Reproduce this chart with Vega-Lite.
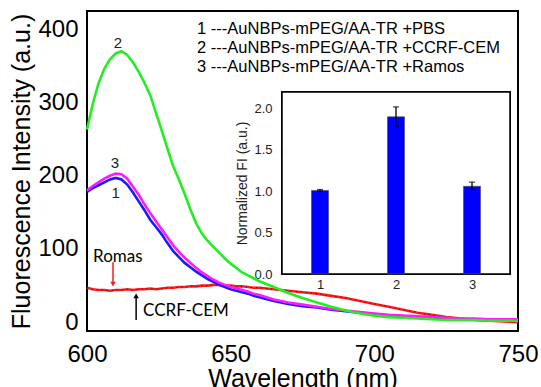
{
  "$schema": "https://vega.github.io/schema/vega-lite/v6.json",
  "width": 431,
  "height": 320,
  "autosize": {"type": "none"},
  "padding": {"left": 87, "top": 11, "right": 23, "bottom": 56},
  "background": "white",
  "config": {
    "view": {"stroke": "black", "strokeWidth": 2},
    "font": "Liberation Sans",
    "axis": {"grid": false}
  },
  "datasets": {
    "spectra": [
      {"wl": 600, "r": 47, "b": 178, "m": 180, "g": 263},
      {"wl": 602, "r": 45, "b": 183, "m": 186, "g": 298},
      {"wl": 604, "r": 44, "b": 187, "m": 191, "g": 326},
      {"wl": 606, "r": 44, "b": 191, "m": 196, "g": 346},
      {"wl": 608, "r": 43, "b": 195, "m": 200, "g": 359},
      {"wl": 610, "r": 44, "b": 197, "m": 203, "g": 367},
      {"wl": 612, "r": 44, "b": 195, "m": 202, "g": 370},
      {"wl": 614, "r": 45, "b": 188, "m": 196, "g": 365},
      {"wl": 616, "r": 44, "b": 177, "m": 185, "g": 355},
      {"wl": 618, "r": 45, "b": 165, "m": 174, "g": 342},
      {"wl": 620, "r": 45, "b": 153, "m": 161, "g": 327},
      {"wl": 622, "r": 46, "b": 140, "m": 149, "g": 310},
      {"wl": 624, "r": 45, "b": 130, "m": 138, "g": 286},
      {"wl": 626, "r": 46, "b": 120, "m": 127, "g": 262},
      {"wl": 628, "r": 47, "b": 108, "m": 116, "g": 237},
      {"wl": 630, "r": 47, "b": 97, "m": 105, "g": 213},
      {"wl": 632, "r": 48, "b": 89, "m": 96, "g": 195},
      {"wl": 634, "r": 48, "b": 81, "m": 88, "g": 175},
      {"wl": 636, "r": 49, "b": 75, "m": 81, "g": 154},
      {"wl": 638, "r": 49, "b": 69, "m": 74, "g": 135},
      {"wl": 640, "r": 50, "b": 64, "m": 68, "g": 121},
      {"wl": 642, "r": 50, "b": 59, "m": 63, "g": 111},
      {"wl": 644, "r": 51, "b": 55, "m": 58, "g": 103},
      {"wl": 646, "r": 51, "b": 51, "m": 54, "g": 95},
      {"wl": 648, "r": 50, "b": 48, "m": 51, "g": 87},
      {"wl": 650, "r": 50, "b": 45, "m": 48, "g": 80},
      {"wl": 652, "r": 49, "b": 43, "m": 46, "g": 74},
      {"wl": 654, "r": 49, "b": 41, "m": 44, "g": 68},
      {"wl": 656, "r": 48, "b": 39, "m": 42, "g": 64},
      {"wl": 658, "r": 47, "b": 36, "m": 39, "g": 60},
      {"wl": 660, "r": 47, "b": 34, "m": 37, "g": 56},
      {"wl": 665, "r": 45, "b": 29, "m": 31, "g": 48},
      {"wl": 670, "r": 43, "b": 25, "m": 27, "g": 40},
      {"wl": 675, "r": 41, "b": 22, "m": 24, "g": 33},
      {"wl": 680, "r": 39, "b": 20, "m": 21, "g": 27},
      {"wl": 685, "r": 36, "b": 17, "m": 18, "g": 21},
      {"wl": 690, "r": 33, "b": 15, "m": 16, "g": 16},
      {"wl": 695, "r": 29, "b": 13, "m": 14, "g": 12},
      {"wl": 700, "r": 25, "b": 11, "m": 12, "g": 9},
      {"wl": 705, "r": 21, "b": 9, "m": 10, "g": 7},
      {"wl": 710, "r": 17, "b": 8, "m": 9, "g": 6},
      {"wl": 715, "r": 13, "b": 7, "m": 8, "g": 5},
      {"wl": 720, "r": 10, "b": 6, "m": 7, "g": 4},
      {"wl": 725, "r": 7, "b": 5, "m": 6, "g": 3},
      {"wl": 730, "r": 5, "b": 4, "m": 5, "g": 3},
      {"wl": 735, "r": 3, "b": 4, "m": 5, "g": 3},
      {"wl": 740, "r": 2, "b": 3, "m": 4, "g": 2},
      {"wl": 745, "r": 1, "b": 3, "m": 4, "g": 2},
      {"wl": 750, "r": 0, "b": 3, "m": 4, "g": 2}
    ],
    "legend": [
      {"wl": 638.3, "v": 401, "t": "1 ---AuNBPs-mPEG/AA-TR +PBS"},
      {"wl": 638.3, "v": 374, "t": "2 ---AuNBPs-mPEG/AA-TR +CCRF-CEM"},
      {"wl": 638.3, "v": 348, "t": "3 ---AuNBPs-mPEG/AA-TR +Ramos"}
    ],
    "curvelabels": [
      {"wl": 610.8, "v": 381, "t": "2"},
      {"wl": 609.7, "v": 218, "t": "3"},
      {"wl": 610, "v": 177, "t": "1"}
    ],
    "notes": [
      {"wl": 602.1, "v": 89, "t": "Romas"},
      {"wl": 619.5, "v": 15, "t": "CCRF-CEM"}
    ],
    "redarrow": [{"wl": 609.05, "v": 82, "v2": 52}],
    "redhead": [{"wl": 609.05, "v": 52}],
    "blackarrow": [{"wl": 617.1, "v": 3, "v2": 36}],
    "blackhead": [{"wl": 617.1, "v": 36}],
    "xmajor": [{"wl": 650}, {"wl": 700}],
    "xminor": [{"wl": 610}, {"wl": 620}, {"wl": 630}, {"wl": 640}, {"wl": 660}, {"wl": 670}, {"wl": 680}, {"wl": 690}, {"wl": 710}, {"wl": 720}, {"wl": 730}, {"wl": 740}],
    "ymajor": [{"v": 0}, {"v": 100}, {"v": 200}, {"v": 300}, {"v": 400}],
    "yminor": [{"v": 50}, {"v": 150}, {"v": 250}, {"v": 350}],
    "insetticks": [{"v": 0.25}, {"v": 0.5}, {"v": 0.75}, {"v": 1.0}, {"v": 1.25}, {"v": 1.5}, {"v": 1.75}, {"v": 2.0}],
    "bars": [
      {"c": 1, "v": 1.01},
      {"c": 2, "v": 1.9},
      {"c": 3, "v": 1.06}
    ],
    "errs": [
      {"c": 1, "v": 1.0, "v2": 1.02},
      {"c": 2, "v": 1.79, "v2": 2.02},
      {"c": 3, "v": 1.02, "v2": 1.11}
    ],
    "caps": [
      {"c": 1, "v": 1.0}, {"c": 1, "v": 1.02},
      {"c": 2, "v": 1.79}, {"c": 2, "v": 2.02},
      {"c": 3, "v": 1.02}, {"c": 3, "v": 1.11}
    ]
  },
  "layer": [
    {
      "encoding": {
        "x": {
          "field": "wl", "type": "quantitative",
          "scale": {"domain": [600, 750], "nice": false, "zero": false},
          "axis": {
            "orient": "bottom",
            "values": [600, 650, 700, 750],
            "ticks": false,
            "domain": false,
            "labelFontSize": 24, "labelColor": "black", "labelPadding": 11,
            "labelFlush": false,
            "title": "Wavelength (nm)", "titleFontSize": 25, "titleFontWeight": "normal",
            "titleColor": "black", "titlePadding": 0
          }
        },
        "y": {
          "field": "v", "type": "quantitative",
          "scale": {"domain": [-12, 425], "nice": false, "zero": false},
          "axis": {
            "orient": "left",
            "values": [0, 100, 200, 300, 400],
            "ticks": false,
            "domain": false,
            "labelFontSize": 24, "labelColor": "black", "labelPadding": 9,
            "labelFlush": false,
            "title": "Fluorescence Intensity (a.u.)", "titleFontSize": 25, "titleFontWeight": "normal",
            "titleColor": "black", "titlePadding": 3
          }
        }
      },
      "layer": [
        {
          "data": {"name": "xmajor"},
          "mark": {"type": "rule", "color": "black", "strokeWidth": 1.5},
          "encoding": {"y": {"datum": -12, "type": "quantitative"}, "y2": {"datum": -1.1}}
        },
        {
          "data": {"name": "xminor"},
          "mark": {"type": "rule", "color": "black", "strokeWidth": 1.5},
          "encoding": {"y": {"datum": -12, "type": "quantitative"}, "y2": {"datum": -6.5}}
        },
        {
          "data": {"name": "ymajor"},
          "mark": {"type": "rule", "color": "black", "strokeWidth": 1.5},
          "encoding": {"x": {"datum": 600, "type": "quantitative"}, "x2": {"datum": 602.8}}
        },
        {
          "data": {"name": "yminor"},
          "mark": {"type": "rule", "color": "black", "strokeWidth": 1.5},
          "encoding": {"x": {"datum": 600, "type": "quantitative"}, "x2": {"datum": 601.4}}
        },
        {
          "data": {"name": "spectra"},
          "transform": [{"fold": ["r"], "as": ["s", "v"]}],
          "mark": {"type": "line", "color": "#ff1a1a", "strokeWidth": 2.6}
        },
        {
          "data": {"name": "spectra"},
          "transform": [{"fold": ["r"], "as": ["s", "v"]}],
          "mark": {"type": "line", "color": "black", "strokeWidth": 1, "strokeDash": [1, 4], "opacity": 0.7}
        },
        {
          "data": {"name": "spectra"},
          "transform": [{"fold": ["b"], "as": ["s", "v"]}],
          "mark": {"type": "line", "color": "#1a1aff", "strokeWidth": 2.6}
        },
        {
          "data": {"name": "spectra"},
          "transform": [{"fold": ["m"], "as": ["s", "v"]}],
          "mark": {"type": "line", "color": "#ff1aff", "strokeWidth": 2.6}
        },
        {
          "data": {"name": "spectra"},
          "transform": [{"fold": ["g"], "as": ["s", "v"]}],
          "mark": {"type": "line", "color": "#22ee22", "strokeWidth": 2.6}
        },
        {
          "data": {"name": "legend"},
          "mark": {"type": "text", "align": "left", "baseline": "middle", "fontSize": 16.5, "color": "black", "font": "Liberation Sans"},
          "encoding": {"text": {"field": "t"}}
        },
        {
          "data": {"name": "curvelabels"},
          "mark": {"type": "text", "align": "center", "baseline": "middle", "fontSize": 15, "color": "#222", "font": "Liberation Sans"},
          "encoding": {"text": {"field": "t"}}
        },
        {
          "data": {"name": "notes"},
          "mark": {"type": "text", "align": "left", "baseline": "middle", "fontSize": 17, "color": "black", "font": "Lato"},
          "encoding": {"text": {"field": "t"}}
        },
        {
          "data": {"name": "redarrow"},
          "mark": {"type": "rule", "color": "#ff1a1a", "strokeWidth": 1.5},
          "encoding": {"y2": {"field": "v2"}}
        },
        {
          "data": {"name": "redhead"},
          "mark": {"type": "point", "shape": "triangle-down", "filled": true, "color": "#ff1a1a", "size": 30, "opacity": 1}
        },
        {
          "data": {"name": "blackarrow"},
          "mark": {"type": "rule", "color": "black", "strokeWidth": 1.5},
          "encoding": {"y2": {"field": "v2"}}
        },
        {
          "data": {"name": "blackhead"},
          "mark": {"type": "point", "shape": "triangle-up", "filled": true, "color": "black", "size": 30, "opacity": 1}
        }
      ]
    },
    {
      "encoding": {
        "x": {
          "field": "c", "type": "quantitative",
          "scale": {"domain": [0.5, 3.5], "range": [190, 428], "nice": false, "zero": false},
          "axis": {
            "orient": "bottom", "offset": -57,
            "values": [1, 2, 3], "format": "d",
            "ticks": false, "domain": false,
            "labelFontSize": 13, "labelColor": "#222", "labelPadding": 4,
            "title": null
          }
        },
        "y": {
          "field": "v", "type": "quantitative",
          "scale": {"domain": [0, 2.2], "range": [263, 81], "nice": false, "zero": false},
          "axis": {
            "orient": "left", "offset": -190,
            "values": [0, 0.5, 1, 1.5, 2],
            "format": ".1f",
            "ticks": false, "domain": false,
            "labelFontSize": 13, "labelColor": "#222", "labelPadding": 5,
            "title": "Normalized FI (a.u.)", "titleFontSize": 14, "titleFontWeight": "normal",
            "titleColor": "#222", "titlePadding": 4
          }
        }
      },
      "layer": [
        {
          "data": {"name": "bars"},
          "mark": {"type": "rect", "fill": "white", "stroke": "black", "strokeWidth": 1.5},
          "encoding": {
            "x": {"datum": 0.5, "type": "quantitative"},
            "x2": {"datum": 3.5},
            "y": {"datum": 0, "type": "quantitative"},
            "y2": {"datum": 2.2}
          }
        },
        {
          "data": {"name": "insetticks"},
          "mark": {"type": "rule", "color": "#222", "strokeWidth": 1},
          "encoding": {"x": {"datum": 0.5, "type": "quantitative"}, "x2": {"datum": 0.55}}
        },
        {
          "data": {"name": "bars"},
          "mark": {"type": "bar", "width": 17, "color": "#0000ff", "stroke": "#555", "strokeWidth": 0.7}
        },
        {
          "data": {"name": "errs"},
          "mark": {"type": "rule", "color": "black", "strokeWidth": 1.3},
          "encoding": {"y2": {"field": "v2"}}
        },
        {
          "data": {"name": "caps"},
          "mark": {"type": "tick", "orient": "horizontal", "color": "black", "size": 6, "thickness": 1.3}
        }
      ]
    }
  ],
  "resolve": {"scale": {"x": "independent", "y": "independent"}}
}
